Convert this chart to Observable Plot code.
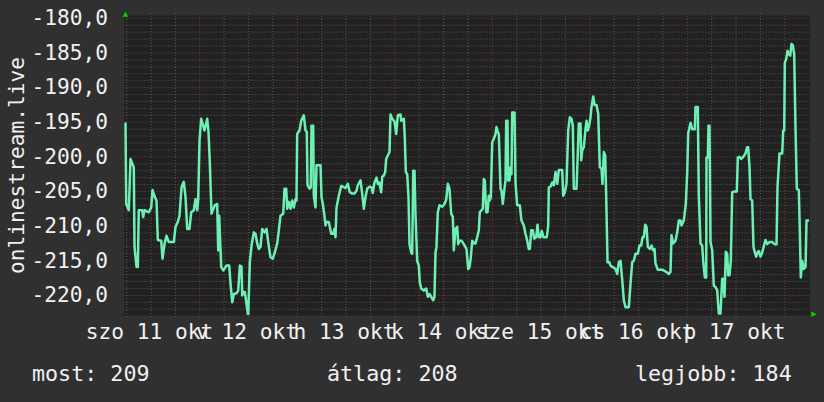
<!DOCTYPE html>
<html>
<head>
<meta charset="utf-8">
<script src="https://cdn.jsdelivr.net/npm/d3@7"></script>
<script src="https://cdn.jsdelivr.net/npm/@observablehq/plot@0.6"></script>
<style>
  html, body { margin: 0; padding: 0; background: #303030; }
  #chart { width: 824px; height: 402px; background: #303030; overflow: hidden; }
  #legend { position: relative; height: 57px; font-family: "DejaVu Sans Mono", monospace; font-size: 21.7px; color: #f0f0f0; }
  #legend span { position: absolute; top: 18px; line-height: 22px; white-space: pre; }
</style>
</head>
<body>
<div id="chart"></div>
<script>
// hours since 2025-10-11 00:00
const hours = [5.71,5.88,6.52,6.94,7.51,7.75,7.93,8.42,8.74,8.98,9.82,10.07,10.39,11.45,12.04,12.36,12.92,13.34,13.66,14.50,14.82,15.31,15.80,16.37,17.60,18.02,18.58,19.00,19.50,20.06,20.48,20.90,21.46,21.88,22.52,22.94,23.36,23.61,23.93,24.34,25.16,25.82,26.14,26.46,26.88,27.69,28.28,28.53,28.78,29.27,29.76,30.57,31.24,31.56,31.98,32.37,33.03,33.45,33.85,34.26,34.44,34.76,35.08,35.49,35.91,36.31,36.73,37.29,37.71,38.13,38.52,38.94,39.36,39.93,40.42,40.84,41.40,41.97,42.46,43.05,43.45,43.86,44.53,44.85,45.27,45.51,45.91,46.33,46.74,47.14,47.56,47.80,47.97,48.54,48.96,49.60,50.02,50.34,50.51,51.00,51.32,51.49,51.91,52.06,52.48,52.73,53.71,53.96,54.28,54.62,54.94,55.19,55.75,56.34,56.84,57.16,57.40,57.65,58.22,58.81,59.86,60.43,60.92,61.51,62.08,62.57,62.89,63.56,63.97,64.37,64.79,65.21,65.77,66.26,66.58,67.00,67.49,67.82,68.16,68.65,68.90,69.29,69.64,69.88,70.28,70.70,70.94,71.36,71.93,72.34,72.74,73.40,73.58,74.22,74.46,74.71,75.05,75.37,75.62,76.04,76.28,76.53,76.85,77.09,77.51,77.91,78.15,78.50,79.14,79.73,80.12,80.54,80.96,81.45,81.77,82.02,82.26,82.58,83.00,83.67,84.23,84.65,85.05,85.46,85.88,86.28,86.52,86.94,87.36,87.61,87.93,88.42,88.98,89.65,90.07,90.39,90.71,91.05,91.45,91.86,92.28,92.68,92.92,93.34,93.66,93.91,94.15,94.50,94.82,95.14,95.38,95.63,95.98,96.37,96.79,97.03,97.35,97.60,98.02,98.26,98.58,98.93,99.25,99.42,99.74,99.91,100.23,100.48,100.72,100.90,101.46,101.71,102.12,102.77,103.18,103.75,104.17,104.59,104.98,105.23,105.58,105.97,106.31,106.81,107.13,107.45,107.86,108.18,108.60,109.42,109.76,109.91,110.33,110.74,111.14,111.56,111.97,112.37,113.21,113.45,113.85,114.26,114.68,115.08,115.49,115.82,116.06,116.73,117.05,117.29,117.71,117.88,118.13,118.52,118.94,119.19,119.51,119.85,120.17,120.42,120.84,121.16,121.65,122.07,122.46,122.88,123.12,123.45,123.79,124.04,124.36,124.78,125.10,125.51,125.91,126.32,126.74,127.14,127.56,127.98,128.37,128.79,129.60,130.02,130.44,130.83,131.25,131.82,132.23,132.65,132.97,133.29,133.64,133.96,134.28,134.77,135.19,135.61,135.93,136.17,136.74,137.82,138.22,138.81,139.45,139.86,140.11,140.53,141.10,141.51,141.91,142.33,142.57,143.14,143.63,143.98,144.22,144.80,145.21,145.85,146.02,146.58,146.83,147.25,147.66,147.91,148.31,148.65,148.72,149.05,149.22,149.46,149.71,150.13,150.52,150.94,151.36,151.75,152.17,152.59,152.83,153.16,153.48,153.82,154.07,154.39,154.71,155.05,155.62,156.18,156.43,156.85,157.27,157.76,158.32,158.74,158.99,159.31,159.56,159.97,160.29,160.62,160.96,161.28,161.60,162.02,162.44,162.83,163.25,163.67,164.23,164.90,165.46,165.96,166.20,166.69,167.36,167.60,167.85,168.00,168.34,168.66,168.98,169.33,169.65,169.97,170.31,170.63,170.95,171.45,171.69,171.94,172.28,172.68,173.10,173.34,173.76];
const values = [-195.2,-206.8,-207.7,-200.3,-201.2,-201.5,-213.0,-215.9,-215.9,-207.7,-207.7,-208.7,-207.7,-208.0,-207.3,-204.8,-205.8,-206.3,-212.0,-212.1,-214.7,-212.6,-211.4,-212.3,-212.3,-210.1,-209.4,-208.5,-204.4,-203.6,-205.8,-210.4,-210.4,-208.0,-207.7,-206.1,-207.7,-206.1,-197.6,-194.5,-196.2,-194.5,-196.4,-200.8,-208.2,-207.0,-206.8,-213.5,-208.5,-215.9,-216.4,-215.7,-215.7,-218.3,-221.0,-219.8,-219.7,-219.3,-215.7,-215.8,-220.0,-219.5,-219.5,-221.2,-223.0,-215.2,-212.8,-210.9,-211.1,-212.5,-213.3,-213.0,-210.4,-210.9,-210.4,-212.3,-214.5,-214.7,-213.8,-212.5,-210.6,-208.5,-208.2,-204.6,-204.6,-207.5,-206.5,-207.5,-206.3,-207.3,-206.1,-206.3,-196.7,-196.2,-194.8,-194.0,-196.2,-196.4,-204.1,-204.6,-204.4,-195.5,-195.5,-205.6,-207.3,-201.2,-201.2,-205.8,-206.8,-208.2,-209.9,-209.4,-209.4,-211.1,-211.1,-210.4,-211.6,-207.3,-205.6,-204.2,-204.5,-203.9,-205.1,-205.3,-205.3,-204.9,-204.1,-203.4,-205.3,-207.5,-205.8,-204.6,-204.3,-204.4,-205.2,-203.7,-203.0,-203.9,-203.7,-205.1,-202.9,-202.7,-202.2,-200.3,-199.8,-199.3,-193.9,-194.5,-194.9,-196.7,-194.0,-193.9,-194.8,-194.5,-197.2,-202.2,-202.5,-205.8,-212.6,-213.8,-214.0,-202.0,-202.0,-208.2,-215.0,-215.7,-218.1,-219.0,-219.3,-219.0,-220.2,-219.8,-220.2,-220.7,-220.2,-213.8,-213.0,-208.0,-207.0,-207.2,-206.8,-206.2,-203.9,-204.6,-208.2,-208.7,-213.5,-210.4,-210.1,-212.6,-212.1,-212.1,-212.6,-213.3,-216.2,-215.9,-214.5,-212.1,-212.5,-212.5,-211.6,-210.6,-208.0,-207.7,-207.5,-203.2,-203.4,-208.0,-208.0,-205.6,-206.3,-205.8,-197.9,-197.4,-196.7,-195.7,-196.4,-196.7,-204.6,-204.9,-206.8,-204.9,-203.4,-194.8,-194.8,-203.4,-203.4,-201.5,-202.5,-193.6,-193.6,-203.7,-207.0,-207.0,-209.2,-209.9,-211.1,-212.1,-213.3,-213.3,-210.6,-210.6,-211.8,-211.6,-209.8,-211.6,-211.6,-210.7,-211.6,-211.6,-209.9,-204.4,-204.3,-203.7,-204.1,-202.2,-203.9,-201.9,-201.9,-205.6,-205.1,-203.9,-196.2,-194.3,-194.5,-195.5,-204.6,-204.6,-199.3,-195.2,-195.2,-200.5,-199.1,-198.6,-196.0,-194.8,-196.2,-195.5,-194.3,-192.8,-191.3,-192.5,-192.5,-193.8,-201.5,-201.7,-203.9,-199.3,-199.8,-205.8,-215.2,-215.2,-215.7,-215.9,-216.0,-216.2,-216.9,-215.2,-215.0,-217.8,-220.7,-221.7,-221.7,-218.3,-215.2,-215.0,-214.0,-214.0,-212.8,-212.8,-211.6,-211.6,-209.8,-210.1,-213.0,-213.3,-212.8,-213.5,-213.3,-215.4,-216.3,-216.3,-216.4,-216.6,-216.9,-216.6,-211.3,-212.5,-212.1,-210.9,-209.2,-209.2,-209.9,-209.2,-206.8,-202.2,-196.6,-195.1,-196.0,-196.0,-192.8,-192.8,-205.6,-212.5,-212.8,-215.0,-217.4,-217.4,-200.1,-200.1,-195.5,-195.5,-212.3,-213.5,-218.6,-218.8,-219.3,-222.6,-222.6,-217.6,-217.6,-220.2,-213.7,-214.0,-217.1,-217.1,-215.0,-205.1,-205.0,-205.0,-200.1,-200.0,-200.3,-200.0,-199.5,-198.6,-198.6,-201.5,-206.1,-206.3,-213.0,-213.8,-214.4,-213.8,-213.6,-214.4,-213.8,-212.9,-212.0,-212.6,-212.3,-212.3,-212.6,-212.6,-204.4,-199.5,-199.5,-196.2,-196.2,-186.4,-185.9,-184.7,-185.2,-185.4,-183.7,-183.9,-185.2,-195.7,-204.6,-204.8,-210.6,-217.4,-215.0,-216.2,-215.9,-209.2,-209.2];

const dayLabels = ["szo 11 okt", "v 12 okt", "h 13 okt", "k 14 okt", "sze 15 okt", "cs 16 okt", "p 17 okt"];
const yTicks = [-180, -185, -190, -195, -200, -205, -210, -215, -220];
const yLabel = "onlinestream.live";
const legendLabels = ["most", "átlag", "legjobb"];
const legendValues = [209, 208, 184];

const H = 3600e3;
const base = new Date(2025, 9, 11, 0, 0, 0).getTime();
const series = hours.map((h, i) => ({t: new Date(base + h * H), v: values[i]}));
const xDomain = [new Date(base + 5.34 * H), new Date(base + 174.2 * H)];
const noons = dayLabels.map((_, i) => new Date(2025, 9, 11 + i, 12));
const midnights = d3.range(1, 8).map(i => new Date(2025, 9, 11 + i, 0));
const sixHours = d3.range(1, 29).map(i => new Date(2025, 9, 11, 6 * i)).filter(d => d.getHours() !== 0);
const minorY = d3.range(-222, -179, 1).filter(v => v % 5 !== 0);

const grey = "#5a5a5a";
const red = "#843838";
const FS = "21.2px";

const plot = Plot.plot({
  width: 824,
  height: 345,
  marginLeft: 123.5,
  marginRight: 14.5,
  marginTop: 15,
  marginBottom: 30,
  style: {background: "#303030", color: "#f0f0f0", fontFamily: "'DejaVu Sans Mono', monospace", fontSize: FS},
  x: {type: "time", domain: xDomain},
  y: {domain: [-222.9, -179.6]},
  marks: [
    Plot.frame({fill: "#212121", stroke: null}),
    Plot.ruleY(minorY, {stroke: grey, strokeDasharray: "1,2", strokeWidth: 1}),
    Plot.ruleX(sixHours, {stroke: grey, strokeDasharray: "1,2", strokeWidth: 1, insetTop: -2, insetBottom: -3}),
    Plot.ruleY(yTicks, {stroke: red, strokeDasharray: "1,2", strokeWidth: 1}),
    Plot.ruleX(midnights, {stroke: red, strokeDasharray: "1,2", strokeWidth: 1, insetTop: -2, insetBottom: -3}),
    Plot.axisY(yTicks, {tickSize: 0, tickPadding: 16, tickFormat: d => d.toFixed(1).replace(".", ","), fill: "#f0f0f0", label: null}),
    Plot.axisX(noons, {tickSize: 0, tickPadding: 8.5, dx: -1.5, tickFormat: d => dayLabels[d.getDate() - 11], fill: "#f0f0f0", label: null}),
    Plot.line(series, {x: "t", y: "v", stroke: "#6cf0b4", strokeWidth: 2.5, clip: true}),
    Plot.text([yLabel], {text: d => d, frameAnchor: "left", textAnchor: "middle", rotate: -90, dx: -106.5, fill: "#f0f0f0"}),
    Plot.text(["▲"], {text: d => d, frameAnchor: "top-left", textAnchor: "middle", dx: 1.5, dy: -4, fill: "#00d000", fontSize: 7, fontFamily: "DejaVu Sans"}),
    Plot.text(["▶"], {text: d => d, frameAnchor: "bottom-right", textAnchor: "middle", dx: 4, dy: 0, fill: "#00d000", fontSize: 7, fontFamily: "DejaVu Sans"})
  ]
});

const chart = document.getElementById("chart");
chart.appendChild(plot);
const legend = document.createElement("div");
legend.id = "legend";
const lefts = [32, 327, 635];
legendLabels.forEach((l, i) => {
  const s = document.createElement("span");
  s.style.left = lefts[i] + "px";
  s.textContent = l + ": " + legendValues[i];
  legend.appendChild(s);
});
chart.appendChild(legend);
</script>
</body>
</html>
